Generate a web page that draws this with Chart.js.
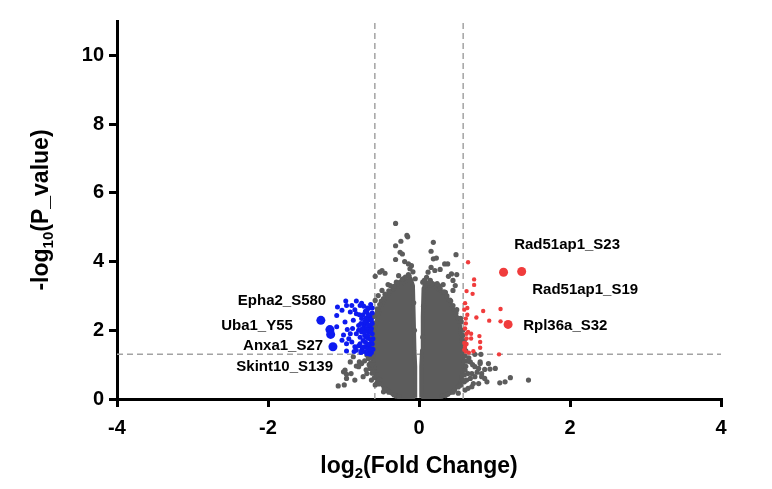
<!DOCTYPE html>
<html>
<head>
<meta charset="utf-8">
<script src="https://cdn.jsdelivr.net/npm/chart.js@4.4.1/dist/chart.umd.min.js"></script>
<style>
  body { margin: 0; background: #fff; }
  canvas { display: block; }
</style>
</head>
<body>
<canvas id="volcano" width="772" height="489"></canvas>
<script>
// ticks
const xTicks = [-4, -2, 0, 2, 4];
const yTicks = [0, 2, 4, 6, 8, 10];

// thresholds: log2(1.5) and -log10(0.05)
const fcCut = 0.585;
const pCut = 1.301;

// outline of the saturated grey mass (each lobe)
const coreLeft = [[-0.05,0.04],[-0.05,0.94],[-0.06,1.42],[-0.07,2.39],[-0.08,3.3],[-0.11,3.5],[-0.19,3.42],[-0.27,3.27],[-0.36,3.18],[-0.43,2.98],[-0.51,2.66],[-0.56,2.28],[-0.6,1.9],[-0.61,1.13],[-0.57,0.66],[-0.48,0.38],[-0.36,0.15],[-0.23,0.04],[-0.05,0.04]];
const coreRight = [[0.03,0.04],[0.03,0.94],[0.04,1.42],[0.05,2.39],[0.06,3.22],[0.1,3.32],[0.21,3.27],[0.3,3.13],[0.38,2.9],[0.47,2.56],[0.54,2.18],[0.57,1.61],[0.59,0.94],[0.55,0.46],[0.42,0.18],[0.26,0.04],[0.03,0.04]];

// non-significant points outside the dense mass
const greyPoints = [
  [-0.31,5.11],[-0.16,4.76],[-0.15,4.72],[-0.24,4.59],[-0.31,4.46],[0.19,4.56],[0.16,4.30],[-0.25,4.27],[-0.22,4.22],[0.19,4.08],
  [0.23,4.10],[-0.31,4.06],[0.49,4.20],[-0.19,4.00],[-0.14,3.93],[-0.10,3.88],[0.34,3.93],[0.38,3.93],[0.16,3.83],[-0.12,3.79],
  [0.28,3.77],[0.21,3.74],[-0.49,3.74],[-0.52,3.69],[-0.45,3.66],[-0.58,3.57],[0.39,3.57],[0.45,3.45],[0.50,3.62],[0.43,3.64],
  [-0.27,3.59],[-0.21,3.50],[0.07,3.45],[0.10,3.54],[0.12,3.69],[-0.41,3.33],[-0.34,3.21],[-0.49,3.16],[-0.54,3.01],[0.32,3.33],
  [0.48,3.30],[0.45,3.16],[-0.25,3.40],[-0.58,2.87],
  [-0.79,1.08],[-0.76,1.03],[-0.83,0.96],[-0.72,1.11],[-0.67,1.18],[-1.00,0.79],[-0.96,0.72],[-0.90,0.74],[-0.85,0.55],[-0.99,0.41],
  [-1.07,0.38],[-0.69,0.74],[-0.74,0.65],[-0.65,0.89],[-0.63,0.55],[-0.58,0.41],[-0.52,0.55],[-0.56,0.70],[-0.69,1.28],[-0.98,0.84],
  [-0.96,0.60],[-0.87,1.23],[-0.91,1.08],[-0.80,0.94],[-0.56,0.45],[-0.47,0.21],[-0.66,1.0],[-0.70,0.85],[-0.62,0.75],[-0.61,1.25],[-0.64,1.05],
  [1.45,0.55],[1.21,0.62],[1.14,0.50],[1.07,0.47],[1.01,0.89],[0.92,1.03],[0.90,0.50],[0.87,0.60],[0.83,0.74],[0.79,0.89],
  [0.81,1.03],[0.74,0.94],[0.74,0.65],[0.79,0.45],[0.72,0.45],[0.70,0.74],[0.68,1.08],[0.65,0.31],[0.74,1.30],[0.82,1.30],
  [0.63,0.55],[0.61,0.84],[0.94,0.87],[0.81,1.08],[0.87,0.86],[0.83,0.65],[0.65,0.74],[0.68,0.60],[0.70,0.36],[0.61,0.26],
  [0.52,0.17],[0.66,1.2],[0.71,1.0],[0.77,0.78],[0.64,1.1],[0.60,0.5],
  [-0.45,3.05],[-0.50,2.85],[-0.55,2.55],[-0.60,2.4],[-0.62,2.1],[-0.63,1.6],[-0.64,1.4],[-0.60,0.9],[-0.55,0.5],[-0.42,0.25],
  [-0.30,0.08],[-0.38,3.3],[-0.30,3.4],[-0.18,3.55],[-0.08,3.7],[-0.05,3.5],[-0.14,3.62],
  [0.05,3.4],[0.08,3.3],[0.15,3.45],[0.26,3.3],[0.35,3.1],[0.42,2.85],[0.50,2.6],[0.55,2.35],[0.58,2.0],[0.60,1.7],
  [0.62,1.4],[0.60,1.1],[0.55,0.4],[0.45,0.2],[0.35,0.1],
  [-0.13,3.58],[-0.22,3.48],[-0.29,3.36],[-0.33,3.28],[-0.40,3.15],[-0.47,2.92],[-0.52,2.75],[-0.55,2.62],[-0.58,2.45],[-0.59,2.2],
  [-0.61,2.0],[-0.62,1.8],[-0.63,1.5],[-0.64,1.2],[-0.62,1.0],[-0.61,0.8],[-0.59,0.62],[-0.53,0.44],[-0.46,0.3],[-0.40,0.2],
  [-0.33,0.12],[-0.26,0.06],
  [0.08,3.42],[0.13,3.38],[0.18,3.36],[0.24,3.36],[0.28,3.22],[0.33,3.12],[0.37,3.0],[0.41,2.88],[0.45,2.72],[0.49,2.5],
  [0.52,2.35],[0.56,2.25],[0.58,1.85],[0.60,1.5],[0.61,1.25],[0.62,0.95],[0.60,0.7],[0.58,0.55],[0.52,0.35],[0.47,0.26],
  [0.38,0.14],[0.30,0.08],[-0.07,2.8],[-0.06,2.0],[0.06,2.7],[0.05,1.8]
];

// down-regulated (blue) and up-regulated (red) sites
const downPoints = [
  [-1.08,2.68],[-0.97,2.85],[-0.96,2.72],[-0.89,2.72],[-0.83,2.85],[-0.78,2.72],[-0.76,2.79],[-0.73,2.70],[-1.09,2.43],[-1.02,2.58],
  [-0.91,2.53],[-0.83,2.48],[-0.69,2.53],[-0.67,2.63],[-1.09,2.10],[-0.98,2.24],[-0.95,2.02],[-0.87,2.29],[-0.80,2.14],[-0.76,2.34],
  [-0.69,2.24],[-1.00,1.86],[-0.91,1.90],[-0.83,1.90],[-0.76,1.95],[-0.69,2.00],[-1.02,1.71],[-0.96,1.61],[-0.89,1.66],[-0.85,1.52],
  [-0.78,1.61],[-0.72,1.52],[-0.96,1.40],[-0.83,1.42],[-0.67,1.76],[-0.67,1.42],[-0.76,1.42],[-0.65,2.10],[-0.65,2.39],[-0.64,1.61],
  [-0.62,2.5],[-0.62,2.2],[-0.62,1.9],[-0.62,1.6],[-0.63,1.35],[-0.66,2.3],[-0.66,1.95],[-0.66,1.55],[-0.70,2.35],[-0.70,1.8],
  [-0.71,1.65],[-0.73,2.15],[-0.73,1.38],[-0.72,1.85],[-0.68,2.65],[-0.64,2.75],[-0.63,2.05],[-0.61,1.75],[-0.61,1.45],[-0.65,1.3],
  [-0.74,2.45],[-0.70,2.05],[-0.68,1.45],[-0.78,1.8],[-0.80,2.0],[-0.77,1.35],[-0.85,2.6],[-0.88,2.05],[-0.93,1.75],[-0.86,1.38],[-0.80,1.55],
  [-0.62,2.65],[-0.63,2.3],[-0.64,2.0],[-0.63,1.7],[-0.64,1.45],[-0.67,2.45],[-0.67,2.15],[-0.68,1.85],[-0.68,1.6],[-0.69,1.32],
  [-0.71,2.55],[-0.72,2.25],[-0.72,1.95],[-0.74,1.7],[-0.75,1.5],[-0.75,2.05],[-0.77,2.2],[-0.79,2.45]
];
const downLabelled = [[-1.30,2.29],[-1.18,2.02],[-1.17,1.88],[-1.14,1.52]];
const upPoints = [
  [0.65,3.98],[0.73,3.48],[0.73,3.32],[0.63,3.14],[0.71,3.06],[0.61,2.79],[0.85,2.56],[1.08,2.62],[0.60,2.60],[0.62,2.34],
  [0.76,2.37],[0.93,2.28],[1.08,2.26],[0.63,1.90],[0.69,1.90],[0.80,1.83],[0.63,1.76],[0.69,1.76],[0.60,1.63],[0.81,1.66],
  [0.61,1.52],[0.81,1.49],[0.72,1.39],[1.06,1.30],[0.60,1.43],[0.64,2.45],[0.61,2.05],[0.66,1.35],
  [0.62,2.2],[0.63,1.6],[0.62,1.38],[0.65,1.95],[0.64,2.65]
];
const upLabelled = [[1.12,3.69],[1.36,3.71],[1.18,2.17]];

// site names and where their text sits (left edge, middle)
const labelNames = ['Epha2_S580', 'Uba1_Y55', 'Anxa1_S27', 'Skint10_S139', 'Rad51ap1_S23', 'Rad51ap1_S19', 'Rpl36a_S32'];
const labelX = [-2.40, -2.62, -2.33, -2.42, 1.26, 1.50, 1.38];
const labelY = [2.87, 2.12, 1.54, 0.93, 4.49, 3.19, 2.14];

const FONT = '"Liberation Sans", Arial, Helvetica, sans-serif';
const GREY = '#5c5c5c';
const toXY = arr => arr.map(p => ({x: p[0], y: p[1]}));

// text labels and axis titles with subscripts
const textPlugin = {
  id: 'texts',
  afterDraw(chart) {
    const ctx = chart.ctx;
    const xs = chart.scales.x, ys = chart.scales.y;
    const area = chart.chartArea;
    ctx.save();
    ctx.fillStyle = '#000';
    ctx.font = 'bold 15px ' + FONT;
    ctx.textAlign = 'left';
    ctx.textBaseline = 'middle';
    labelNames.forEach((name, i) => {
      ctx.fillText(name, xs.getPixelForValue(labelX[i]), ys.getPixelForValue(labelY[i]));
    });

    function subText(parts, cx, baseY) {
      let total = 0;
      parts.forEach(p => {
        ctx.font = (p.sub ? 'bold 15px ' : 'bold 23px ') + FONT;
        p.w = ctx.measureText(p.t).width;
        total += p.w;
      });
      let x = cx - total / 2;
      ctx.textAlign = 'left';
      ctx.textBaseline = 'alphabetic';
      parts.forEach(p => {
        ctx.font = (p.sub ? 'bold 15px ' : 'bold 23px ') + FONT;
        ctx.fillText(p.t, x, baseY + (p.sub ? 5 : 0));
        x += p.w;
      });
    }
    subText([{t: 'log'}, {t: '2', sub: true}, {t: '(Fold Change)'}], (area.left + area.right) / 2, 473);

    ctx.translate(48, (area.top + area.bottom) / 2);
    ctx.rotate(-Math.PI / 2);
    subText([{t: '-log'}, {t: '10', sub: true}, {t: '(P_value)'}], 0, 0);
    ctx.restore();
  }
};

const axisStyle = {
  grid: { display: true, drawOnChartArea: false, drawTicks: true, tickLength: 8, lineWidth: 3, color: '#000' },
  border: { display: true, width: 3, color: '#000' },
  title: { display: false }
};

new Chart(document.getElementById('volcano'), {
  type: 'scatter',
  data: {
    datasets: [
      { type: 'line', data: toXY([[-4, pCut], [4, pCut]]), borderColor: '#a3a3a3', borderWidth: 1.5, borderDash: [6, 4], pointRadius: 0, fill: false, order: 10 },
      { type: 'line', data: toXY([[-fcCut, 0], [-fcCut, 11]]), borderColor: '#a3a3a3', borderWidth: 1.5, borderDash: [6, 4], pointRadius: 0, fill: false, order: 10 },
      { type: 'line', data: toXY([[fcCut, 0], [fcCut, 11]]), borderColor: '#a3a3a3', borderWidth: 1.5, borderDash: [6, 4], pointRadius: 0, fill: false, order: 10 },
      { type: 'line', data: toXY(coreLeft), borderColor: GREY, backgroundColor: GREY, borderWidth: 4, borderJoinStyle: 'round', pointRadius: 0, fill: 'shape', tension: 0, order: 6 },
      { type: 'line', data: toXY(coreRight), borderColor: GREY, backgroundColor: GREY, borderWidth: 4, borderJoinStyle: 'round', pointRadius: 0, fill: 'shape', tension: 0, order: 6 },
      { data: toXY(greyPoints), backgroundColor: GREY, borderWidth: 0, pointRadius: 2.6, order: 5 },
      { data: toXY(downPoints), backgroundColor: '#0d1af0', borderWidth: 0, pointRadius: 2.5, order: 2 },
      { data: toXY(downLabelled), backgroundColor: '#0d1af0', borderWidth: 0, pointRadius: 4.5, order: 1 },
      { data: toXY(upPoints), backgroundColor: '#f03c3c', borderWidth: 0, pointRadius: 2.2, order: 2 },
      { data: toXY(upLabelled), backgroundColor: '#f03c3c', borderWidth: 0, pointRadius: 4.5, order: 1 }
    ]
  },
  options: {
    responsive: false,
    animation: false,
    events: [],
    layout: { padding: { left: 0, right: 51, top: 21, bottom: 0 } },
    plugins: { legend: { display: false }, tooltip: { enabled: false } },
    scales: {
      x: Object.assign({}, axisStyle, {
        type: 'linear', min: -4, max: 4,
        afterBuildTicks: s => { s.ticks = xTicks.map(v => ({value: v})); },
        afterFit: s => { s.height = 90; },
        ticks: { color: '#000', padding: 9, font: { family: FONT, size: 20, weight: 'bold' }, maxRotation: 0 }
      }),
      y: Object.assign({}, axisStyle, {
        type: 'linear', min: 0, max: 11,
        afterBuildTicks: s => { s.ticks = yTicks.map(v => ({value: v})); },
        afterFit: s => { s.width = 117; },
        ticks: { color: '#000', padding: 5, font: { family: FONT, size: 20, weight: 'bold' } }
      })
    }
  },
  plugins: [textPlugin]
});
</script>
</body>
</html>
